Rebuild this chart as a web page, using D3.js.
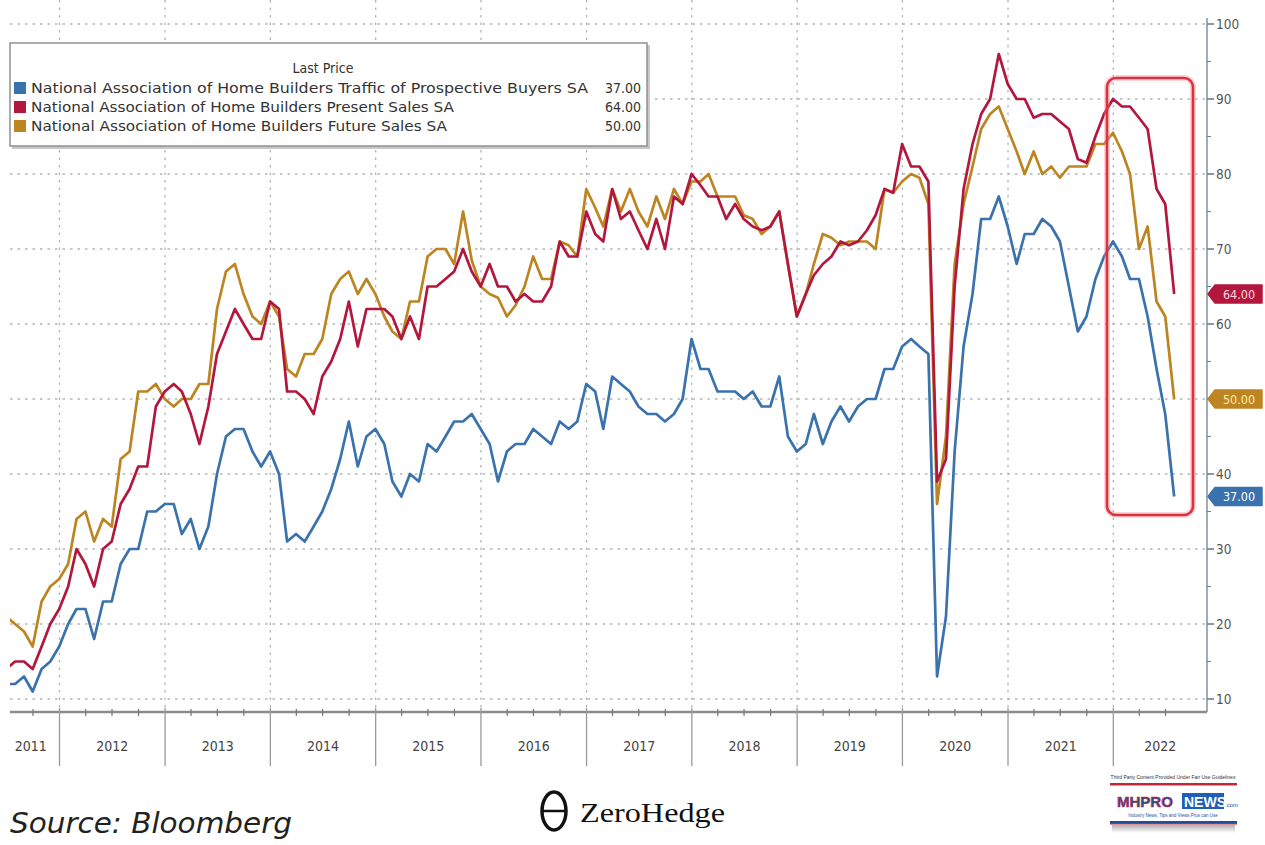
<!DOCTYPE html>
<html><head><meta charset="utf-8">
<script src="https://cdn.jsdelivr.net/npm/d3@7"></script>
<style>body{margin:0;background:#fff;} svg{display:block}</style>
</head><body>
<svg id="c" width="1265" height="845"></svg>
<script>
// ---------- DATA (monthly, Jun 2011 .. Jul 2022) ----------
const startYear = 2011, startMonth = 5; // June 2011 (0-based month)
const traffic = [
 12,12,13,11,14,15,17,
 20,22,22,18,23,23,28,30,30,35,35,36,
 36,32,34,30,33,40,45,46,46,43,41,43,
 40,31,32,31,33,35,38,42,47,41,45,46,
 44,39,37,40,39,44,43,45,47,47,48,46,
 44,39,43,44,44,46,45,44,47,46,47,52,
 51,46,53,52,51,49,48,48,47,48,50,58,
 54,54,51,51,51,50,51,49,49,53,45,43,
 44,48,44,47,49,47,49,50,50,54,54,57,
 58,57,56,13,21,43,57,64,74,74,77,73,
 68,72,72,74,73,71,65,59,61,66,69,71,
 69,66,66,61,54,48,37];
const presentSales = [
 14,15,15,14,17,20,22,
 25,30,28,25,30,31,36,38,41,41,49,51,
 52,51,48,44,49,56,59,62,60,58,58,63,
 62,51,51,50,48,53,55,58,63,57,62,62,
 62,61,58,61,58,65,65,66,67,70,67,65,
 68,65,65,63,64,63,63,65,71,69,69,75,
 72,71,78,74,75,72.5,70,74,70,77,76,80,
 78.5,77,77,74,76,74,73,72.5,73,75,68,61,
 64,66.5,68,69,71,70.5,71,72.5,74.5,78,77.5,84,
 81,81,79,39,42,65,78,84,88,90,96,92,
 90,90,87.5,88,88,87,86,82,81.5,85,88,90,
 89,89,87.5,86,78,76,64];
const futureSales = [
 21,20,19,17,23,25,26,
 28,34,35,31,34,33,42,43,51,51,52,50,
 49,50,50,52,52,62,67,68,64,61,60,63,
 61,54,53,56,56,58,64,66,67,64,66,64,
 61,59,58,63,63,69,70,70,68,75,68.5,65,
 64,63.5,61,62.5,65,69,66,66,71,70.5,69,78,
 75.5,73,78,75,78,75,73,77,74,78,76,79,
 79,80,77,77,77,74.5,74,72,73,75,68,61,
 64,68,72,71.5,70.5,71,71,71,70,78,77.5,79,
 80,79.5,76,36,45,68,76,81,86,88,89,86,
 83,80,83,80,81,79.5,81,81,81,84,84,85.5,
 83,80,70,73,63,61,50];
const seriesNames = [
 "National Association of Home Builders Traffic of Prospective Buyers SA",
 "National Association of Home Builders Present Sales SA",
 "National Association of Home Builders Future Sales SA"];
const lastValues = ["37.00","64.00","50.00"];
const yTicks = [10,20,30,40,50,60,70,80,90,100];
const yearLabels = ["2011","2012","2013","2014","2015","2016","2017","2018","2019","2020","2021","2022"];

// ---------- LAYOUT ----------
const svg = d3.select("#c");
const L = 10, R = 1207, B = 712;
const x = d3.scaleTime().domain([new Date(2012,0,1), new Date(2022,0,1)]).range([59.5, 1113.3]);
const y = d3.scaleLinear().domain([10,100]).range([699, 24]);
const colors = ["#3a72ad", "#b3173d", "#bd8521"];
const FONT = "'DejaVu Sans Condensed','DejaVu Sans',sans-serif";

// month-end dates
const dates = traffic.map((_, i) => new Date(startYear, startMonth + i + 1, 0));

// gridlines
const grid = svg.append("g");
yTicks.forEach(t => {
  grid.append("line").attr("x1", L).attr("x2", R).attr("y1", y(t)).attr("y2", y(t))
    .attr("stroke", "#b5b5b5").attr("stroke-width", 1.3).attr("stroke-dasharray", "2.5,5");
});
const yearStarts = yearLabels.map(s => new Date(+s, 0, 1));
yearStarts.slice(1).forEach(d => {
  grid.append("line").attr("x1", x(d)).attr("x2", x(d)).attr("y1", 0).attr("y2", B)
    .attr("stroke", "#b5b5b5").attr("stroke-width", 1.3).attr("stroke-dasharray", "2.5,5");
});

// clip
svg.append("clipPath").attr("id","pc").append("rect").attr("x", L).attr("y", 0).attr("width", R - L).attr("height", B);

// lines
const line = d3.line().x((d, i) => x(dates[i])).y(d => y(d));
const lg = svg.append("g").attr("clip-path", "url(#pc)");
[futureSales, presentSales, traffic].forEach((s, k) => {
  const c = [colors[2], colors[1], colors[0]][k];
  lg.append("path").datum(s).attr("d", line).attr("fill", "none")
    .attr("stroke", c).attr("stroke-width", 2.7).attr("stroke-linejoin", "round");
});

// red highlight box
svg.append("rect").attr("x", 1107).attr("y", 78).attr("width", 86).attr("height", 437).attr("rx", 9)
  .attr("fill", "none").attr("stroke", "#f08a92").attr("stroke-width", 6).attr("opacity", 0.35);
svg.append("rect").attr("x", 1107).attr("y", 78).attr("width", 86).attr("height", 437).attr("rx", 9)
  .attr("fill", "none").attr("stroke", "#e0303f").attr("stroke-width", 2.6);

// last value tags (positions used to hide covered tick labels)
const tagData = [[presentSales, colors[1], "64.00", "#ffd6de"], [futureSales, colors[2], "50.00", "#ffe9a8"], [traffic, colors[0], "37.00", "#ffffff"]];
const tagYs = tagData.map(d => y(d[0][d[0].length - 1]));

// right y axis
const ax = svg.append("g");
ax.append("line").attr("x1", R).attr("x2", R).attr("y1", 18).attr("y2", B).attr("stroke", "#8a9aa8").attr("stroke-width", 1.6);
d3.range(10, 101, 5).forEach(v => {
  const major = v % 10 === 0;
  ax.append("line").attr("x1", R).attr("x2", R + (major ? 7 : 4)).attr("y1", y(v)).attr("y2", y(v))
    .attr("stroke", "#6f7f8c").attr("stroke-width", major ? 1.6 : 1);
});
yTicks.forEach(t => {
  if (tagYs.some(ty => Math.abs(ty - y(t)) < 15)) return; // hidden under a last-price tag
  ax.append("text").attr("x", 1216).attr("y", y(t)).attr("dy", "0.35em")
    .attr("font-family", FONT).attr("font-size", 13.5)
    .attr("fill", "#555").text(t);
});

tagData.forEach(([s, c, lbl, tc], i) => {
  const yy = tagYs[i];
  svg.append("path").attr("d", `M1208,${yy} L1215,${yy-9} L1262,${yy-9} L1262,${yy+9} L1215,${yy+9} Z`)
    .attr("fill", c).attr("stroke", c).attr("stroke-linejoin", "round").attr("stroke-width", 1.5);
  svg.append("text").attr("x", 1239).attr("y", yy).attr("dy", "0.36em").attr("text-anchor", "middle")
    .attr("font-family", FONT).attr("font-size", 12.5)
    .attr("fill", tc).text(lbl);
});

// x axis
const xa = svg.append("g");
xa.append("line").attr("x1", L).attr("x2", R).attr("y1", B).attr("y2", B).attr("stroke", "#8c8c8c").attr("stroke-width", 2.5);
d3.timeMonth.range(new Date(2011, 3, 1), new Date(2022, 9, 1), 3).forEach(d => {
  const xx = x(d);
  if (xx < L || xx > R) return;
  if (d.getMonth() !== 0) xa.append("line").attr("x1", xx).attr("x2", xx).attr("y1", B - 3).attr("y2", B + 4).attr("stroke", "#777").attr("stroke-width", 1.2);
});
yearStarts.slice(1).forEach(d => {
  xa.append("line").attr("x1", x(d)).attr("x2", x(d)).attr("y1", B - 4).attr("y2", 766).attr("stroke", "#9a9a9a").attr("stroke-width", 1.3);
});
yearLabels.forEach((s, i) => {
  const a = i === 0 ? L : x(yearStarts[i]);
  const b = i === yearLabels.length - 1 ? R : x(yearStarts[i + 1]);
  xa.append("text").attr("x", (a + b) / 2 - (i === 0 ? 4 : 0)).attr("y", 746).attr("dy", "0.35em").attr("text-anchor", "middle")
    .attr("font-family", FONT).attr("font-size", 14)
    .attr("fill", "#444").text(s);
});

// legend
const lgd = svg.append("g");
lgd.append("rect").attr("x", 12).attr("y", 45).attr("width", 638).attr("height", 104).attr("fill", "#c8c8c8");
lgd.append("rect").attr("x", 10).attr("y", 43).attr("width", 637).attr("height", 103).attr("fill", "#fff")
  .attr("stroke", "#8a8a8a").attr("stroke-width", 1.4);
lgd.append("text").attr("x", 323).attr("y", 68).attr("dy", "0.35em").attr("text-anchor", "middle")
  .attr("font-family", FONT).attr("font-size", 14)
  .attr("fill", "#333").text("Last Price");
const rowY = [88, 107, 126];
const nameW = [557, 423, 416];
seriesNames.forEach((n, i) => {
  lgd.append("rect").attr("x", 14).attr("y", rowY[i] - 6).attr("width", 12).attr("height", 12).attr("fill", colors[i]);
  lgd.append("text").attr("x", 31).attr("y", rowY[i]).attr("dy", "0.35em")
    .attr("font-family", FONT).attr("font-size", 14)
    .attr("textLength", nameW[i]).attr("lengthAdjust", "spacingAndGlyphs")
    .attr("fill", "#333").text(n);
  lgd.append("text").attr("x", 641).attr("y", rowY[i]).attr("dy", "0.35em").attr("text-anchor", "end")
    .attr("font-family", FONT).attr("font-size", 14)
    .attr("fill", "#333").text(lastValues[i]);
});

// footer
svg.append("text").attr("x", 10).attr("y", 833).attr("font-family", "'DejaVu Sans',sans-serif")
  .attr("font-style", "italic").attr("font-size", 29).attr("textLength", 282).attr("lengthAdjust", "spacingAndGlyphs")
  .attr("fill", "#222").text("Source: Bloomberg");
// ZeroHedge logo
svg.append("ellipse").attr("cx", 554).attr("cy", 811).attr("rx", 12).attr("ry", 19).attr("fill", "none").attr("stroke", "#111").attr("stroke-width", 3.5);
svg.append("line").attr("x1", 542).attr("x2", 566).attr("y1", 811).attr("y2", 811).attr("stroke", "#111").attr("stroke-width", 2.5);
svg.append("text").attr("x", 580).attr("y", 822).attr("font-family", "'Liberation Serif','DejaVu Serif',serif")
  .attr("font-size", 28).attr("textLength", 145).attr("lengthAdjust", "spacingAndGlyphs").attr("fill", "#111").text("ZeroHedge");
// MHProNews logo
const mh = svg.append("g");
mh.append("text").attr("x", 1173).attr("y", 779).attr("text-anchor", "middle").attr("font-family", "'Liberation Sans',sans-serif")
  .attr("font-size", 5).attr("fill", "#333").text("Third Party Content Provided Under Fair Use Guidelines");
mh.append("rect").attr("x", 1110).attr("y", 783).attr("width", 127).attr("height", 2.5).attr("fill", "#c0283a");
mh.append("text").attr("x", 1117).attr("y", 807).attr("font-family", "'Liberation Sans',sans-serif").attr("font-weight", "bold")
  .attr("font-size", 15).attr("fill", "#1f4f9c").attr("stroke", "#c0283a").attr("stroke-width", 0.6).text("MHPRO");
mh.append("rect").attr("x", 1182).attr("y", 793).attr("width", 42).attr("height", 16).attr("fill", "#1f5fb8");
mh.append("text").attr("x", 1184).attr("y", 807).attr("font-family", "'Liberation Sans',sans-serif").attr("font-weight", "bold")
  .attr("font-size", 14).attr("fill", "#fff").text("NEWS");
mh.append("text").attr("x", 1225).attr("y", 807).attr("font-family", "'Liberation Sans',sans-serif")
  .attr("font-size", 6).attr("fill", "#1f4f9c").text(".com");
mh.append("text").attr("x", 1173).attr("y", 817).attr("text-anchor", "middle").attr("font-family", "'Liberation Sans',sans-serif")
  .attr("font-size", 4.5).attr("fill", "#1f4f9c").text("Industry News, Tips and Views Pros can Use");
mh.append("rect").attr("x", 1110).attr("y", 821).attr("width", 127).attr("height", 2).attr("fill", "#1f4f9c");
mh.append("rect").attr("x", 1110).attr("y", 823).attr("width", 127).attr("height", 1.5).attr("fill", "#c0283a");
const grad = svg.append("defs").append("linearGradient").attr("id", "gs").attr("x1", 0).attr("x2", 0).attr("y1", 0).attr("y2", 1);
grad.append("stop").attr("offset", 0).attr("stop-color", "#b0b0b0");
grad.append("stop").attr("offset", 1).attr("stop-color", "#ffffff");
mh.append("rect").attr("x", 1112).attr("y", 825).attr("width", 123).attr("height", 8).attr("fill", "url(#gs)");
</script>
</body></html>
